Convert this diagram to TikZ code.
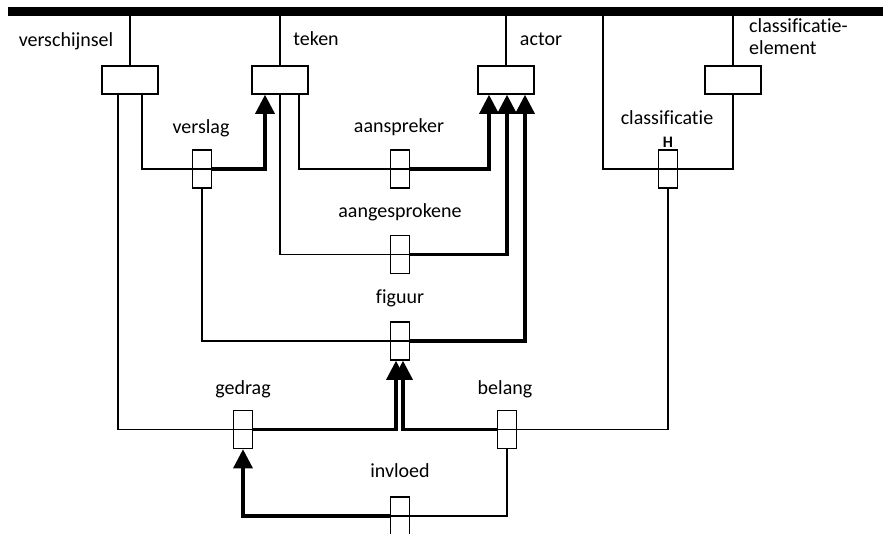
\documentclass[tikz,border=0pt]{standalone}
\usepackage{fontspec}
\setmainfont{Carlito}[Ligatures=NoCommon]
\usetikzlibrary{arrows.meta}
\begin{document}
\begin{tikzpicture}[x=1pt,y=-1pt,
  conn/.style={line width=1.5pt},
  strongconn/.style={line width=3.2pt,-{Triangle[width=19pt,length=19pt]}},
  entity/.style={draw,line width=1.5pt,minimum width=56pt,minimum height=28pt,inner sep=0pt},
  fact/.style={draw,line width=1.5pt,minimum width=19pt,minimum height=38pt,inner sep=0pt},
  lbl/.style={anchor=base,inner sep=0pt,font=\fontsize{20}{24}\selectfont}]
\fill[white] (0,0) rectangle (883,533);
\useasboundingbox (0,0) rectangle (883,533);

% top bar
\node[fill=black,inner sep=0pt,minimum width=875pt,minimum height=9pt] (bar) at (445.5,11.5) {};

% entity boxes
\node[entity] (verschijnsel) at (130,80) {};
\node[entity] (teken) at (280,80) {};
\node[entity] (actor) at (506,80) {};
\node[entity] (clelem) at (733,80) {};

% fact boxes
\node[fact] (verslag) at (202,169) {};
\node[fact] (aanspreker) at (400,169) {};
\node[fact] (classificatie) at (668,169) {};
\node[fact] (aangesprokene) at (400,254.5) {};
\node[fact] (figuur) at (400,341) {};
\node[fact] (gedrag) at (243,429.5) {};
\node[fact] (belang) at (507,429.5) {};
\node[fact] (invloed) at (400,516) {};

\coordinate (clx) at (603,0);

% connectors from bar
\draw[conn] (bar.south -| verschijnsel.north) -- (verschijnsel.north);
\draw[conn] (bar.south -| teken.north) -- (teken.north);
\draw[conn] (bar.south -| actor.north) -- (actor.north);
\draw[conn] (bar.south -| clelem.north) -- (clelem.north);
\draw[conn] (bar.south -| clx) |- (classificatie.east) -| (clelem.south);

% verslag
\draw[conn] ([xshift=12pt]verschijnsel.south) |- (verslag.east);
\draw[strongconn] (verslag.east) -| ([xshift=-15pt]teken.south);
% aanspreker
\draw[conn] ([xshift=19pt]teken.south) |- (aanspreker.east);
\draw[strongconn] (aanspreker.east) -| ([xshift=-17pt]actor.south);
% aangesprokene
\draw[conn] (teken.south) |- (aangesprokene.east);
\draw[strongconn] (aangesprokene.east) -| ([xshift=1pt]actor.south);
% figuur
\draw[conn] (verslag.south) |- (figuur.east);
\draw[strongconn] (figuur.east) -| ([xshift=19pt]actor.south);
% gedrag
\draw[conn] ([xshift=-12pt]verschijnsel.south) |- (gedrag.east);
\draw[strongconn] (gedrag.east) -| ([xshift=-4pt]figuur.south);
% belang
\draw[conn] (classificatie.south) |- (belang.west);
\draw[strongconn] (belang.west) -| ([xshift=3pt]figuur.south);
% invloed
\draw[conn] (belang.south) |- (invloed.west);
\draw[strongconn] (invloed.west) -| (gedrag.south);

% labels
\node[lbl] (lverschijnsel) at (66,46) {verschijnsel};
\node[lbl] (lteken) at (316,45) {teken};
\node[lbl] (lactor) at (541,45) {actor};
\node[lbl,anchor=base west] (lclelem1) at (749,32) {classificatie-};
\node[lbl,anchor=base west] (lclelem2) at (749,54) {element};
\node[lbl] (lverslag) at (201,133) {verslag};
\node[lbl] (laanspreker) at (399,132) {aanspreker};
\node[lbl] (lclassificatie) at (667,124) {classificatie};
\node[anchor=base,inner sep=0pt,font=\fontsize{16}{19}\selectfont\bfseries] (lH) at (668,147) {H};
\node[lbl] (laangesprokene) at (400,217) {aangesprokene};
\node[lbl] (lfiguur) at (400,303) {figuur};
\node[lbl] (lgedrag) at (243,394) {gedrag};
\node[lbl] (lbelang) at (505,394) {belang};
\node[lbl] (linvloed) at (400,477) {invloed};
\end{tikzpicture}
\end{document}
